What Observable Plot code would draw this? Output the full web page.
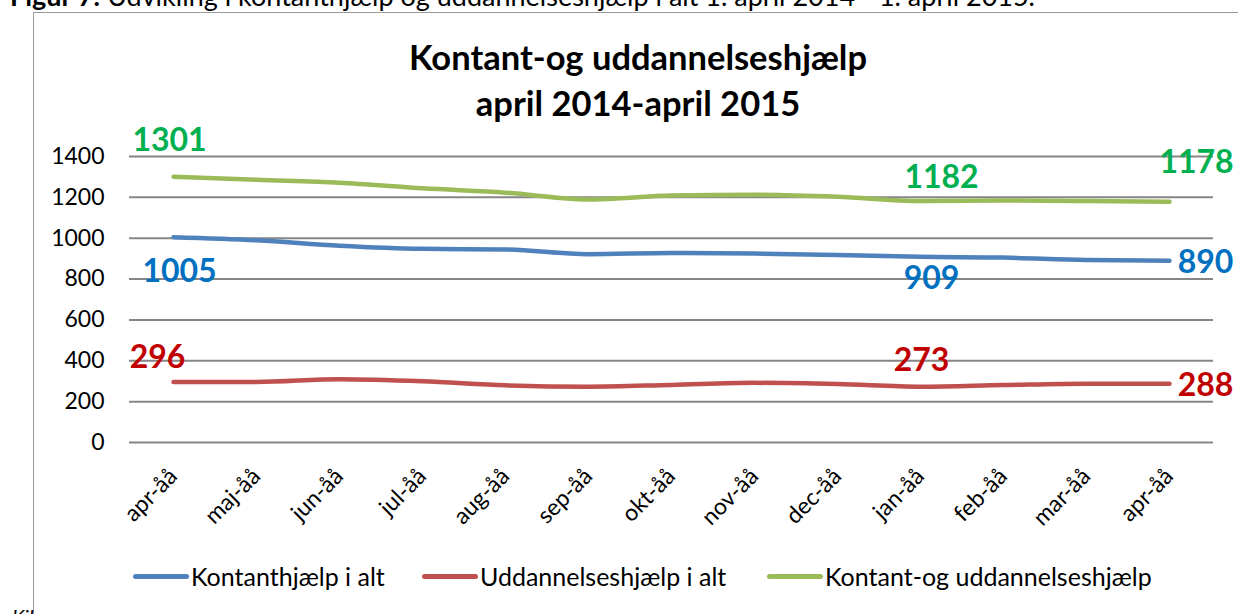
<!DOCTYPE html>
<html>
<head>
<meta charset="utf-8">
<script src="https://cdn.jsdelivr.net/npm/d3@7"></script>
<script src="https://cdn.jsdelivr.net/npm/@observablehq/plot@0.6"></script>
<style>
  html, body { margin: 0; padding: 0; background: #fff; }
  #wrap { position: relative; width: 1238px; height: 614px; overflow: hidden; font-family: Lato, "Open Sans", sans-serif; }
  #caption { position: absolute; left: 10px; top: -21px; font-size: 27px; line-height: normal; white-space: nowrap; color: #000; }
  #frame { position: absolute; left: 33px; top: 12px; width: 1300px; height: 700px; border: 1.5px solid #9a9a9a; }
  #title { position: absolute; left: 0; width: 1276px; top: 34px; text-align: center; font-weight: bold; font-size: 34.5px; line-height: 46px; color: #000; }
  #chart { position: absolute; left: 0; top: 120px; }
  #legend { position: absolute; top: 561px; left: 0; width: 1238px; height: 32px; font-size: 25px; color: #000; }
  .item { position: absolute; display: flex; align-items: center; white-space: nowrap; }
  .sw { width: 56px; height: 5px; border-radius: 3px; margin-right: 2px; }
  #kil { position: absolute; left: 12px; top: 604px; font-style: italic; font-size: 20px; line-height: normal; }
</style>
</head>
<body>
<div id="wrap">
  <div id="caption"><b>Figur 7:</b> Udvikling i kontanthjælp og uddannelseshjælp i alt 1. april 2014 - 1. april 2015.</div>
  <div id="frame"></div>
  <div id="kil">Kil</div>
  <div id="title">Kontant-og uddannelseshjælp<br>april 2014-april 2015</div>
  <div id="chart"></div>
  <div id="legend"></div>
</div>
<script>
// ---- data ----
const months = ["apr-åå","maj-åå","jun-åå","jul-åå","aug-åå","sep-åå","okt-åå","nov-åå","dec-åå","jan-åå","feb-åå","mar-åå","apr-åå"];
const kontanthjaelp = [1005, 990, 963, 948, 945, 922, 928, 925, 918, 909, 905, 893, 890];
const uddannelseshjaelp = [296, 296, 310, 300, 280, 273, 282, 292, 286, 273, 281, 288, 288];
const samlet = [1301, 1286, 1272, 1244, 1223, 1190, 1209, 1213, 1203, 1182, 1185, 1182, 1178];
const seriesNames = ["Kontanthjælp i alt", "Uddannelseshjælp i alt", "Kontant-og uddannelseshjælp"];
const yTicks = [0, 200, 400, 600, 800, 1000, 1200, 1400];
const labelIndex = [0, 9, 12];

const lineColors = ["#4F81BD", "#C0504D", "#9BBB59"];
const labelColors = ["#0070C0", "#C00000", "#00B050"];
const seriesValues = [kontanthjaelp, uddannelseshjaelp, samlet];

const rows = [];
seriesValues.forEach((vals, s) => vals.forEach((v, i) => rows.push({s, i, v})));

// label placement offsets (style only)
const labelOffsets = {
  "0-0": [6, 35], "0-9": [11, 22], "0-12": [36, 2],
  "1-0": [-16, -24], "1-9": [1, -26], "1-12": [36, 2],
  "2-0": [-4, -36], "2-9": [21, -23], "2-12": [27, -39]
};
const labels = [];
seriesValues.forEach((vals, s) => labelIndex.forEach(i => {
  const [dx, dy] = labelOffsets[s + "-" + i];
  labels.push({s, i, v: vals[i], dx, dy});
}));

const plot = Plot.plot({
  width: 1238,
  height: 420,
  marginTop: 36,
  marginBottom: 98,
  marginLeft: 129,
  marginRight: 25,
  style: { fontFamily: "Lato, 'Open Sans', sans-serif", background: "transparent" },
  x: { type: "point", domain: d3.range(months.length), padding: 0.5, label: null },
  y: { domain: [0, 1400], label: null },
  marks: [
    Plot.gridY(yTicks, { stroke: "#868686", strokeOpacity: 1, strokeWidth: 2 }),
    Plot.axisY(yTicks, { tickSize: 0, tickPadding: 25, fontSize: 23, fill: "#000", label: null, tickFormat: d => String(d) }),
    Plot.axisX({ tickSize: 0, tickPadding: 30, tickRotate: -45, fontSize: 23, fill: "#000", label: null, tickFormat: i => months[i] }),
    ...seriesValues.map((vals, s) => Plot.line(rows.filter(r => r.s === s), {
      x: "i", y: "v", stroke: lineColors[s], strokeWidth: 4.5, strokeLinecap: "round", curve: "monotone-x"
    })),
    ...labels.map(l => Plot.text([l], {
      x: "i", y: "v", text: d => String(d.v), fill: labelColors[l.s], fontWeight: "bold", fontSize: 32, dx: l.dx, dy: l.dy
    }))
  ]
});
document.getElementById("chart").appendChild(plot);

// legend
const legendX = [133, 422, 767];
const legend = document.getElementById("legend");
seriesNames.forEach((name, s) => {
  const it = document.createElement("div");
  it.className = "item";
  it.style.left = legendX[s] + "px";
  it.innerHTML = `<div class="sw" style="background:${lineColors[s]}"></div><span>${name}</span>`;
  legend.appendChild(it);
});
</script>
</body>
</html>
